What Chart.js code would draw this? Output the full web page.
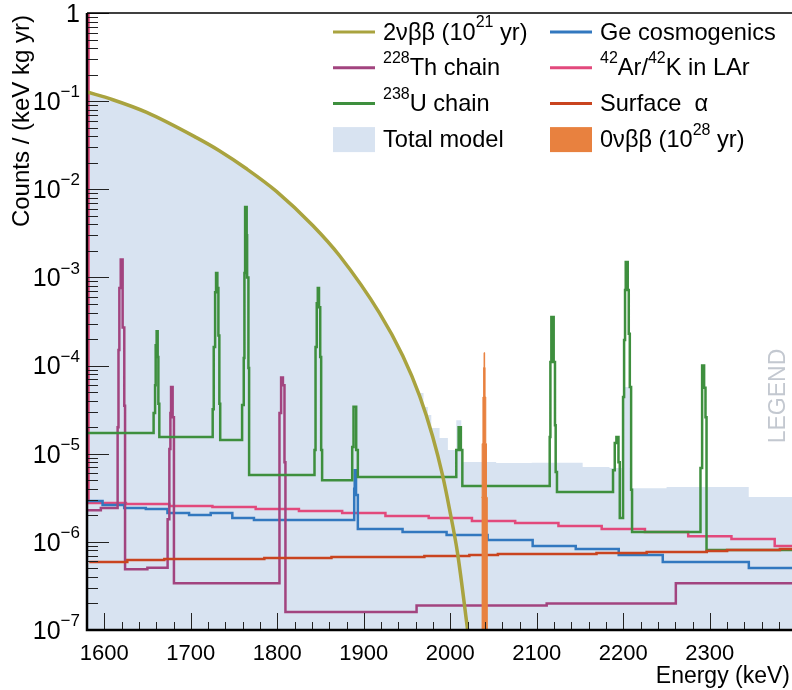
<!DOCTYPE html>
<html>
<head>
<meta charset="utf-8">
<script src="https://cdn.jsdelivr.net/npm/chart.js@4.4.1/dist/chart.umd.min.js"></script>
<style>
  html, body { margin: 0; padding: 0; background: #fff; }
  #chart { display: block; }
</style>
</head>
<body>
<canvas id="chart" width="792" height="690"></canvas>
<script>
'use strict'

// [energy keV, counts / (keV kg yr)].
// histograms: each value holds from its energy up to the next energy
const twoNuBB = [
  [1580, 0.127], [1609, 0.1044], [1649, 0.0745], [1706, 0.0388], [1733, 0.0274],
  [1764, 0.0172], [1799, 9.48e-3], [1841, 3.88e-3], [1872, 1.76e-3], [1918, 3.96e-4],
  [1945, 1.29e-4], [1964.5, 4.53e-5], [1979.5, 1.58e-5], [1991, 5.7e-6], [1999, 2.37e-6],
  [2008.4, 7.4e-7], [2020, 1.0e-7], [2022.3, 6.6e-8],
];

const uChain = [
  [1580, 1.72e-5],
  [1657, 2.9e-5], [1658.7, 6e-5], [1659.4, 1.7e-4], [1660.5, 2.45e-4], [1661.7, 1.25e-4], [1662.5, 3.7e-5], [1663.6, 1.55e-5],
  [1725.3, 3.2e-5], [1726.5, 1.62e-4], [1728.1, 6.8e-4], [1729.2, 1.12e-3], [1730.7, 7.6e-4], [1731.9, 2.2e-4], [1733, 3.7e-5], [1734, 1.43e-5],
  [1759.3, 3.57e-5], [1761.2, 1.22e-4], [1762, 1.12e-3], [1762.8, 6.3e-3], [1764.6, 3e-3], [1765.1, 1e-3], [1766.6, 9.4e-5], [1767.4, 5.75e-6],
  [1843, 1.1e-5], [1844.2, 1.62e-4], [1845.6, 5.1e-4], [1846.8, 7.6e-4], [1848.2, 4.6e-4], [1849.6, 1.25e-4], [1850.7, 1.1e-5], [1851.8, 5.0e-6],
  [1886.6, 1.19e-5], [1888.1, 3.4e-5], [1891.2, 1.1e-5], [1893.1, 5.44e-6],
  [2006.9, 1.1e-5], [2009.6, 2e-5], [2012.2, 1.1e-5], [2013.9, 4.3e-6],
  [2114.9, 1.55e-5], [2115.7, 1.1e-4], [2116.8, 3.56e-4], [2119.5, 1.1e-4], [2121, 2.1e-5], [2121.8, 6.2e-6], [2123.3, 3.67e-6],
  [2188.1, 6.5e-6], [2190.1, 1.32e-5], [2192, 1.55e-5], [2194.4, 8e-6], [2195.9, 1.87e-6], [2199.7, 4.4e-5], [2200.9, 1.95e-4],
  [2202, 7.2e-4], [2202.8, 1.5e-3], [2205.1, 7.2e-4], [2206.3, 2.3e-4], [2207.5, 5.7e-5], [2209, 3.9e-6], [2210.1, 1.29e-6],
  [2289.2, 6.9e-6], [2291.1, 1e-4], [2293.4, 5.6e-5], [2295, 2.6e-5], [2296.2, 8.07e-7], [2400, 8.07e-7],
];

const thChain = [
  [1580, 2.29e-6], [1596, 2.42e-6],
  [1615.4, 2e-5], [1616.4, 1.5e-4], [1617.4, 7.6e-4], [1619, 1.6e-3], [1621.2, 2.7e-4], [1623.1, 3.5e-5], [1624, 4.9e-7],
  [1649.8, 5.1e-7],
  [1673.2, 1.8e-6], [1675.2, 1.13e-5], [1676.4, 2.9e-5], [1677.2, 5.7e-5], [1679, 2.6e-5], [1680.5, 3.4e-7],
  [1802.5, 2.9e-5], [1804.4, 7.3e-5], [1806.5, 6e-5], [1808.3, 8e-6], [1809.4, 1.6e-7],
  [1961, 1.9e-7], [2111.4, 2.0e-7], [2260.7, 3.4e-7], [2400, 3.4e-7],
];

const geCosmo = [
  [1580, 2.91e-6], [1598, 2.62e-6], [1623, 2.42e-6], [1648, 2.36e-6], [1673, 2.12e-6], [1698, 2.02e-6],
  [1723, 2.12e-6], [1748, 1.86e-6], [1773, 1.77e-6],
  [1888.9, 4e-6], [1889.5, 6.5e-6], [1891, 3.4e-6], [1893.1, 1.4e-6],
  [1944.8, 1.29e-6], [1995.7, 1.2e-6], [2043.1, 1.05e-6], [2095.2, 8.97e-7], [2145, 8.3e-7],
  [2194.7, 7.1e-7], [2245.6, 5.9e-7], [2345.1, 5.05e-7], [2400, 5.05e-7],
];

const arK = [
  [1580, 5], [1581.8, 2.76e-6], [1625, 2.69e-6], [1675, 2.55e-6], [1725, 2.48e-6], [1775, 2.36e-6],
  [1825, 2.24e-6], [1875, 2.12e-6], [1925, 1.96e-6], [1975, 1.86e-6], [2025, 1.72e-6], [2075, 1.64e-6],
  [2125, 1.51e-6], [2175, 1.4e-6], [2225, 1.29e-6], [2275, 1.16e-6], [2325, 1.08e-6], [2375, 8.97e-7], [2400, 8.97e-7],
];

const surfAlpha = [
  [1582.6, 5.9e-7], [1626.6, 6.23e-7], [1669.4, 6.38e-7], [1785, 6.56e-7], [1862.6, 6.73e-7], [1970, 6.9e-7],
  [2022, 7.1e-7], [2055, 7.28e-7], [2169, 7.47e-7], [2227, 7.67e-7], [2296.5, 7.87e-7], [2320, 8.07e-7],
  [2381, 8.3e-7], [2400, 8.3e-7],
];

const zeroNuBB = [
  [2035.9, 3.2e-6], [2036.8, 1.3e-5], [2037.7, 4.4e-5], [2038.5, 9.5e-5], [2039, 1.4e-4], [2039.7, 9.5e-5],
  [2040.2, 4.4e-5], [2041, 1.3e-5], [2041.8, 3.2e-6], [2042.8, 1e-9],
];

// total model: equal to 2nbb below ~1963 keV, then binned
const totalLow = twoNuBB.filter(p => p[0] <= 1964.5);
const totalHigh = [
  [1962.5, 4.89e-5], [1969, 3.39e-5], [1974, 2.75e-5], [1978, 1.96e-5], [1987.6, 1.51e-5], [1997.2, 1.1e-5],
  [2006.9, 2.4e-5], [2012.7, 8.05e-6], [2053, 7.84e-6], [2094, 7.9e-6], [2153, 7.06e-6], [2184, 6.9e-6],
  [2199.7, 5.7e-5], [2207.5, 6.9e-6], [2210.1, 4.07e-6], [2250, 4.2e-6], [2345, 3.23e-6], [2400, 3.23e-6],
];

const xTicks = [1600, 1700, 1800, 1900, 2000, 2100, 2200, 2300];
const yDecades = [1, 1e-1, 1e-2, 1e-3, 1e-4, 1e-5, 1e-6, 1e-7];
const yTickLabels = [['1', ''], ['10', '−1'], ['10', '−2'], ['10', '−3'], ['10', '−4'], ['10', '−5'], ['10', '−6'], ['10', '−7']];

const colors = {
  twoNu: '#a9a33f', th: '#a2447f', u: '#3e8f3e', ge: '#3278bf',
  ar: '#e2497c', alpha: '#c9441f', total: '#d8e3f1', zeroNu: '#e8813f',
};

// legend rows: label runs [text, superscript?]
const legendItems = [
  { runs: [['2νββ (10'], ['21', 1], [' yr)']], color: colors.twoNu, box: false },
  { runs: [['Ge cosmogenics']], color: colors.ge, box: false },
  { runs: [['228', 1], ['Th chain']], color: colors.th, box: false },
  { runs: [['42', 1], ['Ar/'], ['42', 1], ['K in LAr']], color: colors.ar, box: false },
  { runs: [['238', 1], ['U chain']], color: colors.u, box: false },
  { runs: [['Surface  α']], color: colors.alpha, box: false },
  { runs: [['Total model']], color: colors.total, box: true },
  { runs: [['0νββ (10'], ['28', 1], [' yr)']], color: colors.zeroNu, box: true },
];

const FONT = '"Liberation Sans", Arial, sans-serif';
const pts = arr => arr.map(([x, y]) => ({ x, y }));

function drawRuns(ctx, runs, x, y, size, align) {
  const supSize = Math.round(size * 0.66);
  let w = 0;
  runs.forEach(r => {
    ctx.font = (r[1] ? supSize : size) + 'px ' + FONT;
    w += ctx.measureText(r[0]).width;
  });
  let cx = align === 'right' ? x - w : x;
  runs.forEach(r => {
    ctx.font = (r[1] ? supSize : size) + 'px ' + FONT;
    ctx.fillText(r[0], cx, r[1] ? y - size * 0.42 : y);
    cx += ctx.measureText(r[0]).width;
  });
}

const frame = {
  id: 'frame',
  afterDraw(chart) {
    const { ctx, chartArea: a, scales: { x, y } } = chart;
    ctx.save();
    ctx.strokeStyle = '#222';
    ctx.lineWidth = 1;
    ctx.beginPath();
    yDecades.forEach(d => {
      const py = Math.round(y.getPixelForValue(d)) + 0.5;
      ctx.moveTo(a.left, py); ctx.lineTo(a.left + 22, py);
    });
    yDecades.slice(1).forEach(d => {
      for (let m = 2; m <= 9; m++) {
        const py = Math.round(y.getPixelForValue(d * m)) + 0.5;
        ctx.moveTo(a.left, py); ctx.lineTo(a.left + 11, py);
      }
    });
    for (let e = 1580; e <= x.max; e += 20) {
      const px = Math.round(x.getPixelForValue(e)) + 0.5;
      const len = e % 100 === 0 ? 17 : 8;
      ctx.moveTo(px, a.bottom); ctx.lineTo(px, a.bottom - len);
    }
    ctx.stroke();

    // frame
    ctx.strokeStyle = '#000';
    ctx.lineWidth = 2.5;
    ctx.beginPath();
    ctx.moveTo(a.left, a.top); ctx.lineTo(a.left, a.bottom); ctx.lineTo(a.right, a.bottom);
    ctx.stroke();
    ctx.lineWidth = 1.5;
    ctx.beginPath();
    ctx.moveTo(a.left, a.top); ctx.lineTo(a.right, a.top);
    ctx.stroke();

    // tick labels
    ctx.fillStyle = '#000';
    ctx.textBaseline = 'middle';
    ctx.textAlign = 'center';
    ctx.font = '22px ' + FONT;
    xTicks.forEach(t => ctx.fillText(String(t), x.getPixelForValue(t), a.bottom + 24));
    ctx.textAlign = 'left';
    yDecades.forEach((d, i) => {
      const [base, sup] = yTickLabels[i];
      drawRuns(ctx, sup ? [[base], [sup, 1]] : [[base]], a.left - 7, y.getPixelForValue(d) + 2, 25, 'right');
    });

    // axis titles
    ctx.font = '23px ' + FONT;
    ctx.textAlign = 'right';
    ctx.fillText('Energy (keV)', a.right - 2, a.bottom + 47);
    ctx.save();
    ctx.font = '24px ' + FONT;
    ctx.translate(22, a.top + 2);
    ctx.rotate(-Math.PI / 2);
    ctx.fillText('Counts / (keV kg yr)', 0, 0);
    ctx.restore();

    // legend
    ctx.textAlign = 'left';
    legendItems.forEach((it, i) => {
      const col = i % 2, row = Math.floor(i / 2);
      const lx = col ? 550 : 333, ly = 32 + row * 35.7;
      if (it.box) {
        ctx.fillStyle = it.color;
        ctx.fillRect(lx, ly - 12, 42, 25);
      } else {
        ctx.strokeStyle = it.color;
        ctx.lineWidth = 3;
        ctx.beginPath(); ctx.moveTo(lx, ly); ctx.lineTo(lx + 42, ly); ctx.stroke();
      }
      ctx.fillStyle = '#000';
      drawRuns(ctx, it.runs, lx + 50, ly + 1, 23.6, 'left');
    });

    // collaboration logo text
    ctx.save();
    ctx.translate(779, 396);
    ctx.rotate(-Math.PI / 2);
    ctx.textAlign = 'center';
    ctx.font = '23px ' + FONT;
    ctx.fillStyle = '#c3c8d0';
    ctx.fillText('LEGEND', 0, 0);
    ctx.restore();
    ctx.restore();
  }
};

const hist = (label, data, color, order) => ({
  label, data: pts(data), borderColor: color, borderWidth: 2.5,
  stepped: 'before', fill: false, pointRadius: 0, order,
});

new Chart(document.getElementById('chart'), {
  type: 'line',
  data: {
    datasets: [
      { label: '0νββ (10^28 yr)', data: pts(zeroNuBB), borderColor: colors.zeroNu, backgroundColor: colors.zeroNu,
        borderWidth: 1, stepped: 'before', fill: 'start', pointRadius: 0, order: 0 },
      { label: '2νββ (10^21 yr)', data: pts(twoNuBB), borderColor: colors.twoNu, borderWidth: 3.5,
        cubicInterpolationMode: 'monotone', fill: false, pointRadius: 0, order: 1 },
      hist('Surface α', surfAlpha, colors.alpha, 2),
      hist('238U chain', uChain, colors.u, 3),
      hist('228Th chain', thChain, colors.th, 4),
      hist('Ge cosmogenics', geCosmo, colors.ge, 5),
      hist('42Ar/42K in LAr', arK, colors.ar, 6),
      { label: 'Total model', data: pts(totalHigh), borderWidth: 0, borderColor: colors.total, backgroundColor: colors.total,
        stepped: 'before', fill: 'start', pointRadius: 0, order: 7 },
      { label: 'Total model', data: pts(totalLow), borderWidth: 0, borderColor: colors.total, backgroundColor: colors.total,
        cubicInterpolationMode: 'monotone', fill: 'start', pointRadius: 0, order: 8 },
    ]
  },
  options: {
    responsive: false,
    animation: false,
    devicePixelRatio: 1,
    layout: { padding: { top: 13, right: 0, left: 0, bottom: 0 } },
    plugins: { legend: { display: false }, tooltip: { enabled: false } },
    scales: {
      x: { type: 'linear', min: 1580, max: 2395, grid: { display: false }, border: { display: false },
        ticks: { display: false }, afterFit(s) { s.height = 60; } },
      y: { type: 'logarithmic', min: 1e-7, max: 1, grid: { display: false }, border: { display: false },
        ticks: { display: false }, afterFit(s) { s.width = 87; } },
    }
  },
  plugins: [frame]
});
</script>
</body>
</html>
